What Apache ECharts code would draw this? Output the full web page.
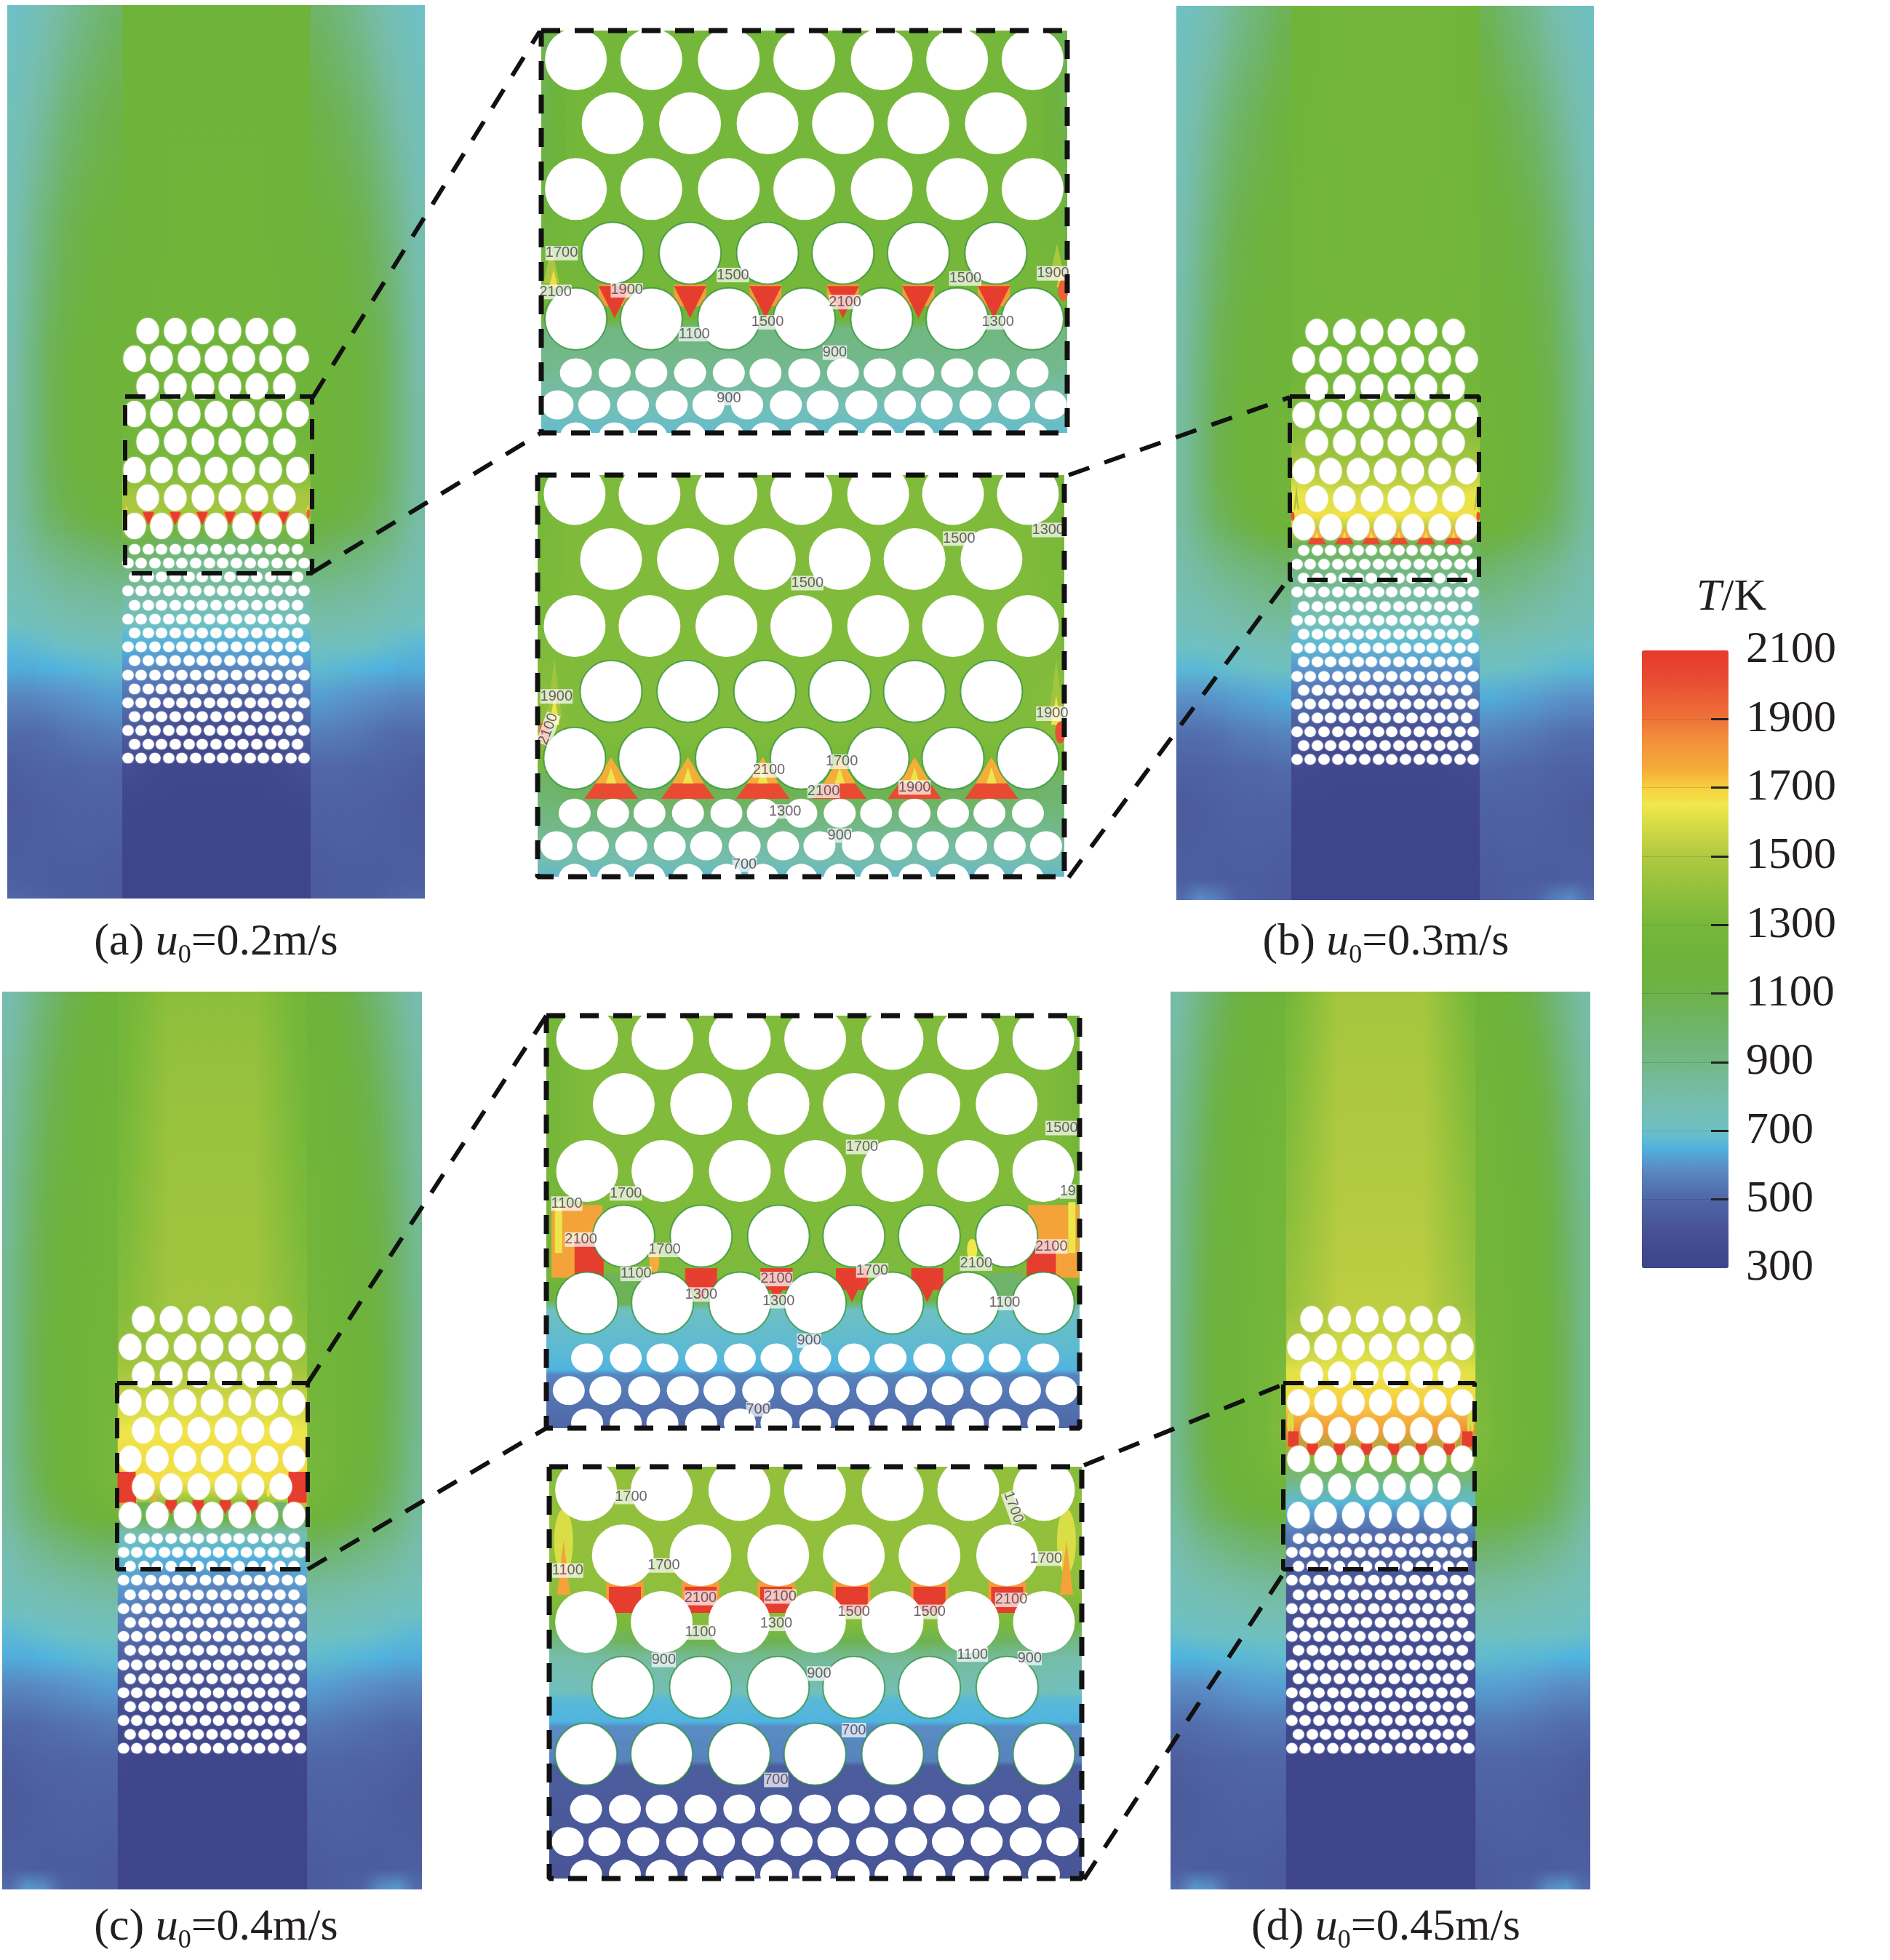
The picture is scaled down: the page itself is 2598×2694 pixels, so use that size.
<!DOCTYPE html>
<html>
<head>
<meta charset="utf-8">
<title>T/K</title>
<script src="https://cdn.jsdelivr.net/npm/echarts@6/dist/echarts.min.js"></script>
<style>
  html, body { margin: 0; padding: 0; background: #fff; }
  #chart { width: 2598px; height: 2694px; }
</style>
</head>
<body>
<div id="chart"></div>
<script>
// colour scale, 300K to 2100K every 50K
const tempPalette = [
  "#3f458b", "#41498e", "#465092", "#4b5b9c", "#5066a7", "#557ab5", "#5b90c8", "#4fb4e0",
  "#6dc0c4", "#74bfb6", "#76bca8", "#75ba98", "#72b885", "#70b678", "#6fb46a", "#6eb358",
  "#6db24a", "#6db33e", "#6eb33a", "#71b53a", "#75b73a", "#83bc3b", "#92c03c", "#a1c53e",
  "#b0c940", "#c5d243", "#dade46", "#f0e84b", "#f6d03f", "#f5ad3a", "#f49c3a", "#f28a3a",
  "#ef7338", "#ec6136", "#e95033", "#e7442f", "#e53a2d",
];
const tempTicks = [500, 700, 900, 1100, 1300, 1500, 1700, 1900];

// hole layout, same in all four cases
const bigRowY = [448, 486, 524, 562, 600, 639, 677, 716];
const bigRowX6 = [193, 231, 269, 306, 343, 381];
const bigRowX7 = [175, 212, 250, 287, 325, 362, 399];
const smallRowY = [748, 767, 786, 805, 825, 844, 863, 882, 901, 921, 940, 959, 978, 997, 1016, 1035];
const smallRowX13 = [175, 194, 212, 231, 250, 268, 287, 306, 324, 343, 362, 380, 399];
const smallRowX14 = [166, 184, 203, 222, 240, 259, 278, 296, 315, 334, 352, 371, 390, 408];

// whole-column temperature field, left half only (mirrored for the right)
const sideEdges = [0, 20, 45, 70, 100, 130, 158, 172, 287];
const sideY = [0, 60, 150, 300, 430, 480, 520, 560, 600, 640, 670, 700, 720, 740, 770, 810, 850, 880, 910, 950, 1000, 1050, 1100, 1200, 1228];
const sideTempA = [
  [700, 730, 780, 850, 930, 1000, 1190, 1220],
  [720, 750, 810, 890, 970, 1040, 1190, 1220],
  [740, 790, 870, 970, 1050, 1100, 1190, 1220],
  [770, 860, 970, 1070, 1130, 1160, 1190, 1230],
  [790, 890, 1030, 1110, 1160, 1190, 1200, 1240],
  [800, 910, 1050, 1130, 1170, 1200, 1210, 1240],
  [800, 910, 1050, 1140, 1180, 1210, 1220, 1250],
  [810, 910, 1050, 1140, 1180, 1210, 1230, 1260],
  [810, 910, 1050, 1140, 1180, 1220, 1260, 1280],
  [810, 910, 1040, 1130, 1170, 1210, 1320, 1330],
  [810, 900, 1030, 1110, 1150, 1190, 1460, 1430],
  [810, 890, 1000, 1080, 1120, 1160, 1500, 1460],
  [800, 870, 970, 1040, 1080, 1110, 1350, 1250],
  [790, 850, 920, 980, 1020, 1050, 1100, 1000],
  [770, 810, 860, 900, 930, 960, 950, 880],
  [750, 770, 800, 830, 840, 860, 820, 800],
  [720, 730, 750, 770, 780, 790, 720, 700],
  [670, 680, 690, 710, 720, 730, 650, 640],
  [640, 640, 650, 660, 670, 680, 600, 580],
  [580, 580, 590, 600, 610, 620, 530, 460],
  [510, 510, 520, 540, 550, 560, 450, 370],
  [470, 480, 490, 490, 500, 500, 380, 320],
  [450, 460, 470, 480, 480, 480, 320, 305],
  [470, 465, 460, 460, 460, 450, 305, 305],
  [500, 490, 470, 460, 460, 450, 305, 305],
];
const sideTempB = [
  [710, 740, 800, 880, 960, 1050, 1230, 1260],
  [730, 770, 830, 920, 1000, 1090, 1230, 1260],
  [750, 810, 900, 1000, 1070, 1140, 1240, 1260],
  [780, 870, 990, 1090, 1140, 1180, 1250, 1270],
  [810, 910, 1050, 1130, 1170, 1200, 1250, 1280],
  [820, 930, 1060, 1140, 1180, 1210, 1260, 1290],
  [820, 940, 1070, 1150, 1190, 1220, 1280, 1300],
  [830, 940, 1080, 1150, 1200, 1230, 1330, 1340],
  [830, 940, 1080, 1150, 1200, 1240, 1400, 1390],
  [830, 940, 1080, 1150, 1200, 1240, 1500, 1480],
  [830, 940, 1060, 1140, 1190, 1240, 1640, 1580],
  [830, 920, 1040, 1110, 1170, 1220, 1670, 1660],
  [820, 900, 1000, 1070, 1130, 1180, 1500, 1500],
  [810, 870, 950, 1010, 1060, 1100, 1050, 1050],
  [790, 830, 880, 930, 960, 1000, 950, 930],
  [770, 790, 820, 850, 880, 900, 820, 830],
  [740, 750, 770, 790, 810, 830, 720, 730],
  [700, 710, 720, 730, 750, 760, 670, 670],
  [670, 670, 680, 690, 700, 710, 610, 600],
  [600, 600, 610, 620, 630, 640, 530, 480],
  [520, 520, 530, 550, 560, 570, 440, 390],
  [480, 480, 490, 500, 500, 510, 360, 320],
  [450, 460, 470, 480, 480, 480, 310, 305],
  [470, 465, 460, 460, 460, 450, 305, 305],
  [520, 600, 560, 480, 460, 450, 305, 305],
];
const sideTempC = [
  [780, 850, 950, 1050, 1140, 1200, 1280, 1380],
  [800, 880, 990, 1090, 1170, 1220, 1290, 1400],
  [830, 920, 1040, 1120, 1190, 1240, 1300, 1420],
  [860, 980, 1090, 1160, 1210, 1250, 1320, 1440],
  [880, 1000, 1110, 1180, 1230, 1260, 1350, 1450],
  [880, 1010, 1120, 1190, 1240, 1260, 1400, 1450],
  [880, 1010, 1120, 1190, 1240, 1270, 1460, 1480],
  [880, 1010, 1120, 1190, 1240, 1280, 1560, 1580],
  [880, 1000, 1110, 1190, 1240, 1290, 1640, 1660],
  [870, 1000, 1100, 1190, 1240, 1300, 1680, 1670],
  [860, 980, 1090, 1170, 1230, 1290, 1690, 1660],
  [850, 950, 1050, 1140, 1200, 1250, 1500, 1380],
  [830, 920, 1010, 1090, 1150, 1190, 1100, 1150],
  [810, 880, 950, 1010, 1060, 1090, 760, 800],
  [780, 830, 870, 910, 950, 980, 680, 650],
  [750, 770, 790, 810, 830, 850, 620, 580],
  [710, 720, 730, 740, 750, 760, 560, 520],
  [670, 680, 690, 700, 710, 720, 520, 480],
  [640, 640, 650, 660, 670, 680, 480, 440],
  [580, 580, 590, 600, 610, 620, 420, 390],
  [510, 510, 520, 530, 540, 550, 360, 340],
  [470, 480, 490, 490, 500, 500, 320, 310],
  [450, 460, 470, 480, 480, 480, 305, 305],
  [470, 465, 460, 460, 460, 450, 305, 305],
  [520, 620, 600, 480, 460, 450, 305, 305],
];
const sideTempD = [
  [800, 880, 990, 1100, 1170, 1220, 1300, 1460],
  [820, 910, 1030, 1130, 1190, 1230, 1320, 1470],
  [850, 950, 1080, 1170, 1220, 1260, 1340, 1490],
  [880, 1000, 1120, 1190, 1240, 1270, 1380, 1510],
  [890, 1020, 1140, 1200, 1250, 1280, 1420, 1530],
  [890, 1030, 1140, 1210, 1250, 1300, 1500, 1570],
  [890, 1030, 1140, 1210, 1250, 1310, 1620, 1640],
  [890, 1030, 1140, 1210, 1250, 1320, 1680, 1700],
  [890, 1030, 1140, 1210, 1260, 1330, 1850, 1800],
  [880, 1020, 1130, 1200, 1250, 1310, 1350, 1300],
  [870, 990, 1100, 1170, 1220, 1260, 900, 900],
  [850, 960, 1060, 1130, 1170, 1200, 680, 660],
  [830, 920, 1010, 1080, 1120, 1140, 620, 570],
  [810, 880, 950, 1000, 1040, 1060, 560, 510],
  [780, 830, 870, 910, 950, 970, 490, 460],
  [750, 770, 790, 810, 830, 850, 440, 420],
  [720, 730, 740, 750, 760, 770, 400, 390],
  [690, 700, 710, 710, 720, 720, 380, 370],
  [650, 650, 660, 670, 670, 680, 360, 350],
  [590, 590, 600, 610, 620, 620, 340, 330],
  [520, 520, 530, 540, 550, 550, 320, 315],
  [470, 480, 490, 490, 500, 500, 310, 305],
  [450, 460, 470, 480, 480, 480, 305, 305],
  [470, 465, 460, 460, 460, 450, 305, 305],
  [520, 620, 600, 480, 460, 450, 305, 305],
];

// enlarged views
const zoomEdges = [150, 167, 180, 287];
const zoomYA = [540, 620, 700, 716, 722, 745, 760, 772, 790];
const zoomTempA = [
  [1050, 1280, 1300], [1100, 1290, 1300], [1300, 1300, 1300], [1200, 1220, 1220], [920, 920, 920],
  [880, 880, 880], [800, 800, 800], [730, 730, 730], [670, 670, 670],
];
const zoomYB = [545, 640, 700, 720, 728, 745, 760, 775, 790];
const zoomTempB = [
  [1300, 1330, 1340], [1320, 1340, 1340], [1400, 1340, 1340], [1300, 1300, 1300], [1000, 1050, 1150],
  [950, 980, 1000], [870, 860, 860], [780, 780, 780], [660, 670, 670],
];
const zoomYC = [545, 640, 700, 714, 720, 745, 755, 758, 775, 795];
const zoomTempC = [
  [1300, 1340, 1340], [1300, 1340, 1340], [1250, 1320, 1330], [1200, 1200, 1200], [720, 710, 710],
  [670, 670, 670], [650, 650, 650], [570, 570, 570], [530, 530, 530], [480, 480, 480],
];
const zoomYD = [545, 590, 620, 640, 650, 660, 680, 684, 697, 700, 720, 723, 795];
const zoomTempD = [
  [1350, 1400, 1400], [1420, 1400, 1400], [1380, 1390, 1390], [1200, 1300, 1350], [900, 1000, 1080],
  [780, 800, 850], [720, 740, 750], [670, 670, 670], [650, 650, 650], [590, 590, 590], [570, 570, 570],
  [460, 460, 460], [420, 420, 420],
];

// hot spots: x, y, T, shape index
const hotA = [
  [194, 702, 1800, 0], [194, 706, 2080, 1], [231, 702, 1800, 0], [231, 706, 2080, 1],
  [268, 702, 1800, 0], [268, 706, 2080, 1], [306, 702, 1800, 0], [306, 706, 2080, 1],
  [343, 702, 1800, 0], [343, 706, 2080, 1], [380, 702, 1800, 0], [380, 706, 2080, 1],
  [163, 684, 1480, 15], [164, 692, 1680, 14], [411, 682, 1480, 15], [413, 692, 1680, 14], [414, 699, 1950, 13],
];
const hotB = [
  [193, 729, 2020, 2], [193, 723, 1750, 3], [193, 726, 1640, 4],
  [231, 729, 2020, 2], [231, 723, 1750, 3], [231, 726, 1640, 4],
  [268, 729, 2020, 2], [268, 723, 1750, 3], [268, 726, 1640, 4],
  [306, 729, 2020, 2], [306, 723, 1750, 3], [306, 726, 1640, 4],
  [343, 729, 2020, 2], [343, 723, 1750, 3], [343, 726, 1640, 4],
  [381, 729, 2020, 2], [381, 723, 1750, 3], [381, 726, 1640, 4],
  [165, 675, 1450, 16], [165, 688, 1660, 17], [160, 701, 2000, 13],
  [413, 675, 1450, 16], [413, 688, 1660, 17], [415, 701, 2000, 13],
];
const hotC = [
  [193, 708, 1050, 10], [380, 708, 1000, 10],
  [231, 702, 2060, 0], [268, 702, 2060, 0], [305, 702, 2060, 0], [342, 702, 2060, 0],
  [231, 706, 2080, 1], [268, 706, 2080, 1], [305, 706, 2080, 1], [342, 706, 2080, 1],
  [170, 680, 1780, 7], [176, 690, 2080, 8], [161, 672, 1640, 9],
  [404, 680, 1780, 7], [398, 690, 2080, 8], [413, 672, 1640, 9],
  [208, 692, 1750, 13], [364, 685, 1650, 13],
];
const hotD = [
  [194, 624, 1800, 12], [194, 626, 2080, 11], [231, 624, 1800, 12], [231, 626, 2080, 11],
  [268, 624, 1800, 12], [268, 626, 2080, 11], [305, 624, 1800, 12], [305, 626, 2080, 11],
  [343, 624, 1800, 12], [343, 626, 2080, 11], [381, 624, 1800, 12], [381, 626, 2080, 11],
  [164, 592, 1600, 6], [410, 592, 1600, 6], [164, 607, 1780, 18], [410, 607, 1780, 18],
];
// the small side views run hotter at the walls than the enlarged ones
const hotSideExtraC = [[170, 678, 2080, 7], [404, 678, 2080, 7]];
const hotSideExtraD = [[168, 612, 2080, 8], [406, 612, 2080, 8]];

// contour labels in the enlarged views: x, y, text, rotation
const contourA = [
  [168, 677, "1700"], [165, 700, "2100"], [200, 699, "1900"], [252, 690, "1500"], [307, 706, "2100"],
  [366, 692, "1500"], [409, 689, "1900"], [233, 725, "1100"], [269, 718, "1500"], [382, 718, "1300"],
  [302, 736, "900"], [250, 763, "900"],
];
const contourB = [
  [409, 583, "1300"], [365, 588, "1500"], [290, 614, "1500"], [166, 680, "1900"], [162, 699, "2100", 70],
  [411, 690, "1900"], [307, 718, "1700"], [271, 723, "2100"], [298, 735, "2100"], [343, 733, "1900"],
  [279, 747, "1300"], [306, 761, "900"], [259, 778, "700"],
];
const contourC = [
  [408, 614, "1500"], [310, 625, "1700"], [194, 652, "1700"], [411, 651, "19"], [165, 658, "1100"],
  [172, 679, "2100"], [403, 683, "2100"], [213, 685, "1700"], [366, 693, "2100"], [315, 697, "1700"],
  [199, 699, "1100"], [268, 702, "2100"], [231, 711, "1300"], [269, 715, "1300"], [380, 716, "1100"],
  [284, 738, "900"], [259, 778, "700"],
];
const contourD = [
  [197, 566, "1700"], [384, 572, "1700", -70], [400, 602, "1700"], [213, 606, "1700"], [166, 609, "1100"],
  [231, 625, "2100"], [270, 624, "2100"], [383, 626, "2100"], [306, 633, "1500"], [343, 633, "1500"],
  [268, 640, "1300"], [231, 645, "1100"], [364, 658, "1100"], [213, 661, "900"], [392, 660, "900"],
  [289, 669, "900"], [306, 702, "700"], [268, 731, "700"],
];

// dashed boxes and connectors, in page pixels
const sideBoxes = [
  [[172, 545], [429, 545], [429, 788], [172, 788], [172, 545]],
  [[1773, 545], [2033, 545], [2033, 797], [1773, 797], [1773, 545]],
  [[161, 1901], [423, 1901], [423, 2157], [161, 2157], [161, 1901]],
  [[1764, 1901], [2027, 1901], [2027, 2157], [1764, 2157], [1764, 1901]],
];
const zoomBoxes = [
  [[744, 42], [1467, 42], [1467, 595], [744, 595], [744, 42]],
  [[739, 653], [1463, 653], [1463, 1205], [739, 1205], [739, 653]],
  [[751, 1396], [1484, 1396], [1484, 1963], [751, 1963], [751, 1396]],
  [[755, 2016], [1487, 2016], [1487, 2582], [755, 2582], [755, 2016]],
];
const connectorPaths = [
  [[430, 546], [742, 43]],
  [[429, 787], [742, 596]],
  [[1469, 653], [1773, 546]],
  [[1469, 1206], [1770, 797]],
  [[423, 1901], [751, 1396]],
  [[423, 2157], [751, 1963]],
  [[1490, 2014], [1766, 1902]],
  [[1490, 2583], [1768, 2157]],
];

const captions = ["(a) ", "(b) ", "(c) ", "(d) "];
const speeds = ["0.2", "0.3", "0.4", "0.45"];

// ---- layout -----------------------------------------------------------
const serifFont = "Liberation Serif";
const textColor = "#231f20";
// [symbol, w, h, rotate] of the hot spot shapes, in enlarged-view pixels
const hotShapes = [
  ["rect", 44, 30], ["triangle", 44, 44, 180], ["triangle", 74, 50], ["triangle", 44, 36], ["triangle", 14, 22],
  ["circle", 14, 60], ["circle", 26, 90], ["rect", 70, 100], ["rect", 40, 50], ["rect", 10, 70],
  ["rect", 50, 45], ["rect", 44, 36], ["rect", 52, 40], ["circle", 14, 30], ["triangle", 12, 24],
  ["triangle", 22, 50], ["triangle", 20, 80], ["triangle", 14, 40], ["triangle", 18, 75],
];
const sideScale = [2.8, 2.357];
const fieldMid = 287;

const panels = [
  { rect: [10, 7, 574, 1228], win: [0, 574, 0, 1228], edges: sideEdges, y: sideY, temp: sideTempA, hot: hotA, side: true },
  { rect: [1617, 8, 574, 1229], win: [0, 574, 0, 1228], edges: sideEdges, y: sideY, temp: sideTempB, hot: hotB, side: true },
  { rect: [3, 1363, 577, 1234], win: [0, 574, 0, 1228], edges: sideEdges, y: sideY, temp: sideTempC, hot: hotC.concat(hotSideExtraC), side: true },
  { rect: [1609, 1363, 577, 1234], win: [0, 574, 0, 1228], edges: sideEdges, y: sideY, temp: sideTempD, hot: hotD.concat(hotSideExtraD), side: true },
  { rect: [744, 42, 723, 553], win: [158, 416, 545, 783.6], edges: zoomEdges, y: zoomYA, temp: zoomTempA, hot: hotA, labels: contourA },
  { rect: [739, 653, 724, 552], win: [156.7, 417, 551, 785], edges: zoomEdges, y: zoomYB, temp: zoomTempB, hot: hotB, labels: contourB },
  { rect: [751, 1396, 733, 567], win: [155, 416.8, 548.4, 789], edges: zoomEdges, y: zoomYC, temp: zoomTempC, hot: hotC, labels: contourC },
  { rect: [755, 2016, 732, 566], win: [157, 417.5, 548.4, 788.5], edges: zoomEdges, y: zoomYD, temp: zoomTempD, hot: hotD, labels: contourD },
];

function tempColor(t) {
  return echarts.color.lerp((t - 300) / 1800, tempPalette);
}

function holeRows(rowY, rowOdd, rowEven, yMin, yMax) {
  let res = [];
  rowY.forEach((y, i) => {
    if (y < yMin || y > yMax) return;
    (i % 2 == 0 ? rowOdd : rowEven).forEach((x) => res.push([x, y]));
  });
  return res;
}

// thin strips across the table columns so the shading has no visible steps
// a wall (side panels, between column 5 and 6) stays a hard edge
function fieldStrips(edges, side) {
  const groups = side ? [[0, 1, 2, 3, 4, 5], [6, 7]] : [[0, 1, 2]];
  const strips = [];
  const step = 4;
  groups.forEach((g) => {
    const start = edges[g[0]];
    const end = edges[g[g.length - 1] + 1];
    const centers = g.map((c) => (edges[c] + edges[c + 1]) / 2);
    for (let x = start; x < end; x += step) {
      const x1 = Math.min(x + step, end);
      const cx = (x + x1) / 2;
      let k = 0;
      while (k < g.length - 2 && cx > centers[k + 1]) k++;
      let f = g.length > 1 ? (cx - centers[k]) / (centers[k + 1] - centers[k]) : 0;
      f = Math.max(0, Math.min(1, f));
      strips.push([x, x1, g[k], g[k + 1], f]);
      strips.push([2 * fieldMid - x1, 2 * fieldMid - x, g[k], g[k + 1], f]);
    }
  });
  return strips;
}

const grid = [];
const xAxis = [];
const yAxis = [];
const series = [];
const hotSeriesIndex = [];

panels.forEach((p, idx) => {
  grid.push({ left: p.rect[0], top: p.rect[1], width: p.rect[2], height: p.rect[3] });
  xAxis.push({ gridIndex: idx, type: "value", min: p.win[0], max: p.win[1], show: false });
  yAxis.push({ gridIndex: idx, type: "value", min: p.win[2], max: p.win[3], inverse: true, show: false });

  const yTop = p.y[0];
  const yBot = p.y[p.y.length - 1];
  series.push({
    type: "custom",
    xAxisIndex: idx,
    yAxisIndex: idx,
    clip: true,
    silent: true,
    data: fieldStrips(p.edges, p.side),
    encode: { x: [0, 1] },
    renderItem(params, api) {
      const a = api.coord([api.value(0), yTop]);
      const b = api.coord([api.value(1), yBot]);
      const ca = api.value(2);
      const cb = api.value(3);
      const f = api.value(4);
      const stops = p.y.map((y, i) => ({
        offset: (y - yTop) / (yBot - yTop),
        color: tempColor(p.temp[i][ca] * (1 - f) + p.temp[i][cb] * f),
      }));
      return {
        type: "rect",
        shape: { x: a[0], y: a[1], width: b[0] - a[0] + 1, height: b[1] - a[1] },
        style: { fill: new echarts.graphic.LinearGradient(0, 0, 0, 1, stops) },
      };
    },
  });

  // hot spots, coloured by the visualMap
  hotSeriesIndex.push(series.length);
  const sx = p.side ? 1 / sideScale[0] : 1;
  const sy = p.side ? 1 / sideScale[1] : 1;
  series.push({
    type: "scatter",
    xAxisIndex: idx,
    yAxisIndex: idx,
    clip: false,
    silent: true,
    data: p.hot,
    symbol: (v) => hotShapes[v[3]][0],
    symbolSize: (v) => [hotShapes[v[3]][1] * sx, hotShapes[v[3]][2] * sy],
    symbolRotate: (v) => hotShapes[v[3]][3] || 0,
    itemStyle: { opacity: 1 },
  });

  // holes, only the rows that reach into this window
  const bigSize = p.side ? [31, 36] : [85, 85];
  const smallSize = p.side ? [15.5, 14.5] : [44, 40];
  const big = holeRows(bigRowY, bigRowX6, bigRowX7, p.win[2] - 18, p.win[3] + 18);
  const small = holeRows(smallRowY, smallRowX13, smallRowX14, p.win[2] - 8, p.win[3] + 8);
  [[big, bigSize], [small, smallSize]].forEach((h) => {
    series.push({
      type: "scatter",
      xAxisIndex: idx,
      yAxisIndex: idx,
      clip: false,
      silent: true,
      // lower big rows carry the thin contour rim seen in the enlarged views
      data: h[0].map((q) =>
        !p.side && h[1] === bigSize && q[1] >= 677
          ? { value: q, itemStyle: { borderColor: "rgba(40,140,50,0.7)", borderWidth: 2 } }
          : q
      ),
      symbolSize: h[1],
      itemStyle: p.side
        ? { color: "#fff", opacity: 1, shadowBlur: 2, shadowColor: "rgba(255,255,255,0.7)" }
        : { color: "#fff", opacity: 1 },
    });
  });

  if (p.labels) {
    series.push({
      type: "scatter",
      xAxisIndex: idx,
      yAxisIndex: idx,
      clip: false,
      silent: true,
      symbolSize: 1,
      itemStyle: { color: "transparent" },
      data: p.labels.map((r) => ({ value: [r[0], r[1], r[2]], label: { rotate: r[3] || 0 } })),
      label: {
        show: true,
        position: "inside",
        formatter: (q) => q.value[2],
        fontFamily: "Liberation Sans",
        fontSize: 20,
        color: "#4a3a46",
        backgroundColor: "rgba(255,255,255,0.88)",
      },
      labelLayout: { hideOverlap: false },
    });
  }
});

// page-level grid for the dashed annotation lines
const pageIdx = grid.length;
grid.push({ left: 0, top: 0, width: 2598, height: 2694 });
xAxis.push({ gridIndex: pageIdx, type: "value", min: 0, max: 2598, show: false });
yAxis.push({ gridIndex: pageIdx, type: "value", min: 0, max: 2694, inverse: true, show: false });
function dashed(path, width, dash) {
  series.push({
    type: "line", xAxisIndex: pageIdx, yAxisIndex: pageIdx, data: path, symbol: "none", silent: true, clip: false, z: 10,
    lineStyle: { color: "#111", width: width, type: dash },
  });
}
sideBoxes.forEach((path) => dashed(path, 6, [28, 20]));
zoomBoxes.forEach((path) => dashed(path, 7, [26, 20]));
connectorPaths.forEach((path) => dashed(path, 6, [30, 22]));

// colour bar ticks and labels
const barIdx = grid.length;
grid.push({ left: 2257, top: 894, width: 119, height: 849 });
xAxis.push({ gridIndex: barIdx, type: "value", show: false, min: 0, max: 1 });
yAxis.push({
  gridIndex: barIdx,
  type: "value",
  position: "right",
  min: 300,
  max: 2100,
  interval: 200,
  z: 6,
  axisLine: { show: false, onZero: false },
  axisTick: { show: true, inside: true, length: 24, customValues: tempTicks, lineStyle: { color: "#222", width: 3 } },
  splitLine: { show: true, lineStyle: { color: "rgba(0,0,0,0.12)", width: 1 } },
  axisLabel: { margin: 24, fontFamily: serifFont, fontSize: 62, color: textColor, formatter: (v) => String(v) },
});

const titleRich = {
  i: { fontStyle: "italic", fontFamily: serifFont, fontSize: 62, color: textColor, lineHeight: 72 },
  s: { fontFamily: serifFont, fontSize: 36, color: textColor, lineHeight: 36, verticalAlign: "bottom" },
};
const captionPos = [[297, 1260], [1905, 1260], [297, 2614], [1905, 2614]];
const title = captions.map((c, i) => ({
  text: c + "{i|u}{s|0}=" + speeds[i] + "m/s",
  left: captionPos[i][0],
  top: captionPos[i][1],
  textAlign: "center",
  padding: 0,
  textStyle: { fontFamily: serifFont, fontSize: 62, fontWeight: "normal", color: textColor, rich: titleRich },
}));
title.push({
  text: "{i|T}/K",
  left: 2380,
  top: 786,
  textAlign: "center",
  padding: 0,
  textStyle: { fontFamily: serifFont, fontSize: 62, fontWeight: "normal", color: textColor, rich: titleRich },
});

const myChart = echarts.init(document.getElementById("chart"));
myChart.setOption({
  animation: false,
  backgroundColor: "#fff",
  title,
  grid,
  xAxis,
  yAxis,
  visualMap: {
    type: "continuous",
    min: 300,
    max: 2100,
    dimension: 2,
    seriesIndex: hotSeriesIndex,
    calculable: false,
    realtime: false,
    left: 2257,
    top: 894,
    itemWidth: 119,
    itemHeight: 849,
    text: null,
    showLabel: false,
    padding: 0,
    z: 2,
    inRange: { color: tempPalette },
  },
  series,
});
</script>
</body>
</html>
